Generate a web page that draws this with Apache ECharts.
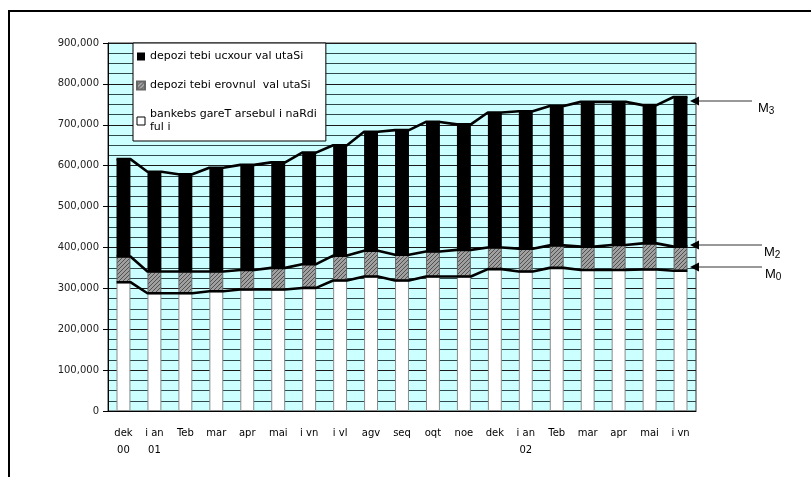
<!DOCTYPE html>
<html>
<head>
<meta charset="utf-8">
<script src="https://cdn.jsdelivr.net/npm/echarts@6/dist/echarts.min.js"></script>
<style>
html,body{margin:0;padding:0;background:#fff;}
#c{width:811px;height:477px;}
</style>
</head>
<body>
<div id="c"></div>
<script>
// ---- data ----
var categories = ['dek\n00','i an\n01','Teb','mar','apr','mai','i vn','i vl','agv','seq','oqt','noe','dek','i an\n02','Teb','mar','apr','mai','i vn'];
var cashOutside = [315000,288000,288000,293000,297000,297000,301000,319000,329000,319000,329000,329000,347000,341000,350000,345000,345000,346000,343000];
var depositsNational = [63000,53000,53000,48000,48000,53000,58000,61000,63000,63000,61000,65000,53000,56000,55000,57000,61000,64000,59000];
var depositsForeign = [238000,244000,238000,254000,257000,258000,273000,270000,291000,305000,317000,307000,330000,336000,341000,354000,350000,338000,366000];
var seriesNames = ['depozi tebi ucxour val utaSi','depozi tebi erovnul  val utaSi','bankebs gareT arsebul i naRdi\nful i'];
var yTicks = [0,100000,200000,300000,400000,500000,600000,700000,800000,900000];

// hatch pattern for the national-currency deposits
var pc = document.createElement('canvas');
pc.width = 4; pc.height = 4;
var g = pc.getContext('2d');
g.fillStyle = '#a0a0a0'; g.fillRect(0,0,4,4);
g.strokeStyle = '#505050'; g.lineWidth = 1;
g.beginPath(); g.moveTo(0,4); g.lineTo(4,0); g.stroke();
g.beginPath(); g.moveTo(-1,1); g.lineTo(1,-1); g.stroke();
g.beginPath(); g.moveTo(3,5); g.lineTo(5,3); g.stroke();
var hatch = {image: pc, repeat: 'repeat'};

// cumulative levels for the series lines
var m0 = [], m2 = [], m3 = [];
for (var i = 0; i < categories.length; i++) {
  m0.push(cashOutside[i]);
  m2.push(cashOutside[i] + depositsNational[i]);
  m3.push(cashOutside[i] + depositsNational[i] + depositsForeign[i]);
}
var barFrac = 0.45;
function stepLine(levels) {
  var out = [];
  for (var i = 0; i < levels.length; i++) {
    out.push([i + 0.5 - barFrac/2, levels[i]]);
    out.push([i + 0.5 + barFrac/2, levels[i]]);
  }
  return out;
}

var chart = echarts.init(document.getElementById('c'), null, {renderer:'canvas'});
var lineStyle = {color:'#000', width:2.6};
var option = {
  animation: false,
  grid: {left:108, right:115, top:43, bottom:66, show:true, backgroundColor:'#ccffff', borderColor:'#333', borderWidth:1},
  legend: {
    orient:'vertical', left:133, top:43,
    data:[
      {name:seriesNames[0]},
      {name:seriesNames[1]},
      {name:seriesNames[2], itemStyle:{color:'#fff', borderColor:'#000', borderWidth:1}}
    ],
    icon:'rect', itemWidth:8, itemHeight:8, itemGap:16,
    padding:[7,9,7,3],
    backgroundColor:'#fff', borderColor:'#000', borderWidth:1, borderRadius:0,
    textStyle:{fontFamily:'DejaVu Sans', fontSize:11, color:'#000', lineHeight:13},
    selectedMode:false
  },
  xAxis: [
    {type:'category', data:categories, axisLine:{show:true, lineStyle:{color:'#000'}}, axisTick:{show:false},
     axisLabel:{fontFamily:'DejaVu Sans', fontSize:10, color:'#000', margin:14, lineHeight:17, interval:0}},
    {type:'value', min:0, max:categories.length, show:false}
  ],
  yAxis: {
    type:'value', min:yTicks[0], max:yTicks[yTicks.length-1], interval:100000,
    axisLine:{show:true, lineStyle:{color:'#000'}},
    axisTick:{show:true, length:5, lineStyle:{color:'#000'}},
    axisLabel:{fontFamily:'DejaVu Sans', fontSize:10, color:'#222', margin:9,
      formatter:function(v){return v.toLocaleString('en-US');}},
    splitLine:{show:true, lineStyle:{color:'#1a1a1a', width:1}},
    minorTick:{show:false, splitNumber:4},
    minorSplitLine:{show:true, lineStyle:{color:'#2e4a4a', width:1}}
  },
  series: [
    {name:seriesNames[2], type:'bar', stack:'m', data:cashOutside, barWidth:'45%',
     itemStyle:{color:'#fff', borderColor:'#8a8a8a', borderWidth:1}},
    {name:seriesNames[1], type:'bar', stack:'m', data:depositsNational, barWidth:'45%',
     itemStyle:{color:hatch, borderColor:'#666', borderWidth:1}},
    {name:seriesNames[0], type:'bar', stack:'m', data:depositsForeign, barWidth:'45%',
     itemStyle:{color:'#000'}},
    {type:'line', xAxisIndex:1, data:stepLine(m0), symbol:'none', lineStyle:lineStyle, z:5, silent:true},
    {type:'line', xAxisIndex:1, data:stepLine(m2), symbol:'none', lineStyle:lineStyle, z:5, silent:true},
    {type:'line', xAxisIndex:1, data:stepLine(m3), symbol:'none', lineStyle:lineStyle, z:5, silent:true}
  ],
  graphic: [
    {type:'line', shape:{x1:8, y1:11, x2:811, y2:11}, style:{stroke:'#000', lineWidth:2}, z:100},
    {type:'line', shape:{x1:9, y1:10, x2:9, y2:477}, style:{stroke:'#000', lineWidth:2}, z:100}
  ]
};
chart.setOption(option);

// annotation arrows (M3, M2, M0)
function arrow(y, xEnd, labelX, sub) {
  return [
    {type:'line', shape:{x1:698, y1:y, x2:xEnd, y2:y}, style:{stroke:'#333', lineWidth:1}, z:100},
    {type:'polygon', shape:{points:[[690,y],[699,y-4.5],[699,y+4.5]]}, style:{fill:'#000'}, z:100},
    {type:'text', x:labelX, y:y+7, z:100, style:{
      text:'{m|M}{s|' + sub + '}', verticalAlign:'middle',
      rich:{m:{fontFamily:'Liberation Sans', fontSize:13, fill:'#000'},
            s:{fontFamily:'Liberation Sans', fontSize:10, fill:'#000', padding:[6,0,0,0]}}}}
  ];
}
var extra = [].concat(arrow(101, 752, 758, '3'), arrow(245, 762, 764, '2'), arrow(267, 762, 765, '0'));
chart.setOption({graphic: option.graphic.concat(extra)});
</script>
</body>
</html>
